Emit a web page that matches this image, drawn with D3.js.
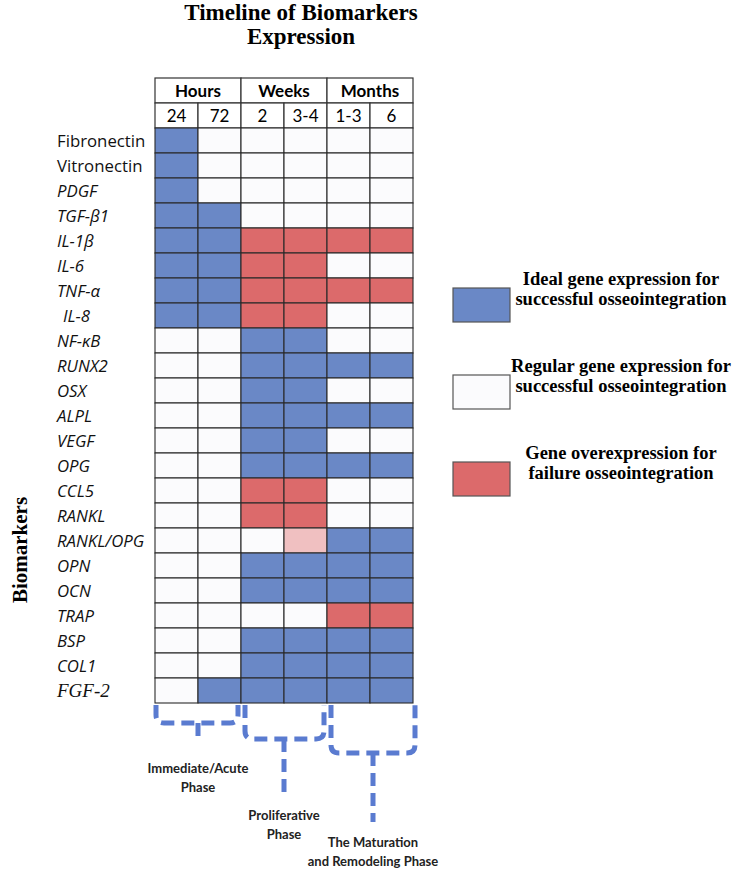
<!DOCTYPE html>
<html>
<head>
<meta charset="utf-8">
<script src="https://cdn.jsdelivr.net/npm/d3@7"></script>
<style>
  body { margin: 0; background: #fff; }
  svg { display: block; }
</style>
</head>
<body>
<svg id="chart" width="738" height="874"></svg>
<script>
// time points, grouped by unit
let groups = ["Hours", "Weeks", "Months"];
let timepoints = ["24", "72", "2", "3-4", "1-3", "6"];
let timeGroup = ["Hours", "Hours", "Weeks", "Weeks", "Months", "Months"];

let biomarkers = ["Fibronectin", "Vitronectin", "PDGF", "TGF-β1", "IL-1β", "IL-6", "TNF-α", "IL-8",
    "NF-κB", "RUNX2", "OSX", "ALPL", "VEGF", "OPG", "CCL5", "RANKL", "RANKL/OPG",
    "OPN", "OCN", "TRAP", "BSP", "COL1", "FGF-2"];

// I = ideal, N = regular (normal), F = overexpression (failure), P = mild overexpression
let expression = [
    "INNNNN", "INNNNN", "INNNNN", "IINNNN", "IIFFFF", "IIFFNN", "IIFFFF", "IIFFNN",
    "NNIINN", "NNIIII", "NNIINN", "NNIIII", "NNIINN", "NNIIII", "NNFFNN", "NNFFNN",
    "NNNPII", "NNIIII", "NNIIII", "NNNNFF", "NNIIII", "NNIIII", "NIIIII"
];

let legendItems = [
    { key: "I", lines: ["Ideal gene expression for", "successful osseointegration"] },
    { key: "N", lines: ["Regular gene expression for", "successful osseointegration"] },
    { key: "F", lines: ["Gene overexpression for", "failure osseointegration"] }
];

let phases = [
    { lines: ["Immediate/Acute", "Phase"], from: "24", to: "72" },
    { lines: ["Proliferative", "Phase"], from: "2", to: "3-4" },
    { lines: ["The Maturation", "and Remodeling Phase"], from: "1-3", to: "6" }
];

let colors = { I: "#6a88c6", N: "#fbfbfd", F: "#dc6a6b", P: "#f0c0c1" };
let sans = "Lato, 'Open Sans', sans-serif";
let labelFont = "'Open Sans', Lato, sans-serif";
let serif = "'Liberation Serif', 'DejaVu Serif', serif";

let svg = d3.select("#chart");

let gridLeft = 155, gridRight = 413, headTop = 78, rowsTop = 128, rowsBottom = 703;

let x = d3.scaleBand().domain(timepoints).range([gridLeft, gridRight]);
let y = d3.scaleBand().domain(biomarkers).range([rowsTop, rowsBottom]);
let headH = (rowsTop - headTop) / 2;

// title
svg.append("g").selectAll("text")
    .data(["Timeline of Biomarkers", "Expression"])
    .enter().append("text")
    .attr("x", 301)
    .attr("y", (d, i) => 20 + i * 24)
    .attr("text-anchor", "middle")
    .style("font-family", serif).style("font-weight", "bold").style("font-size", "23px")
    .text(d => d);

// header: group row
let headerG = svg.append("g");
groups.forEach(g => {
    let cols = timepoints.filter((t, i) => timeGroup[i] === g);
    let x0 = x(cols[0]), x1 = x(cols[cols.length - 1]) + x.bandwidth();
    headerG.append("rect")
        .attr("x", x0).attr("y", headTop).attr("width", x1 - x0).attr("height", headH)
        .attr("fill", "#fff").attr("stroke", "#333").attr("stroke-width", 1.2);
    headerG.append("text")
        .attr("x", (x0 + x1) / 2).attr("y", headTop + headH / 2).attr("dy", ".36em")
        .attr("text-anchor", "middle")
        .style("font-family", sans).style("font-weight", "bold").style("font-size", "17px")
        .text(g);
});

// header: time point row
headerG.selectAll(".tp")
    .data(timepoints)
    .enter().append("g")
    .each(function (d) {
        let g = d3.select(this);
        g.append("rect")
            .attr("x", x(d)).attr("y", headTop + headH).attr("width", x.bandwidth()).attr("height", headH)
            .attr("fill", "#fff").attr("stroke", "#333").attr("stroke-width", 1.2);
        g.append("text")
            .attr("x", x(d) + x.bandwidth() / 2).attr("y", headTop + headH * 1.5).attr("dy", ".36em")
            .attr("text-anchor", "middle")
            .style("font-family", sans).style("font-size", "17px")
            .text(d);
    });

// cells
let cells = [];
biomarkers.forEach((b, r) => {
    timepoints.forEach((t, c) => cells.push({ b, t, v: expression[r][c] }));
});

svg.append("g").selectAll("rect")
    .data(cells)
    .enter().append("rect")
    .attr("x", d => x(d.t))
    .attr("y", d => y(d.b))
    .attr("width", x.bandwidth())
    .attr("height", y.bandwidth())
    .attr("fill", d => colors[d.v])
    .attr("stroke", "#2a2a2a")
    .attr("stroke-width", 1.1);

// row labels
svg.append("g").selectAll("text")
    .data(biomarkers)
    .enter().append("text")
    .attr("x", d => d === "IL-8" ? 63 : 57)
    .attr("y", d => y(d) + y.bandwidth() / 2)
    .attr("dy", ".36em")
    .style("font-family", d => d === "FGF-2" ? serif : labelFont)
    .style("font-style", d => (d === "Fibronectin" || d === "Vitronectin") ? "normal" : "italic")
    .style("font-size", d => d === "FGF-2" ? "19px" : "16.8px")
    .style("fill", "#111")
    .text(d => d);

// y axis title
svg.append("text")
    .attr("transform", "translate(27,550) rotate(-90)")
    .attr("text-anchor", "middle")
    .style("font-family", serif).style("font-weight", "bold").style("font-size", "21px")
    .text("Biomarkers");

// legend
let legend = svg.append("g").selectAll("g")
    .data(legendItems)
    .enter().append("g")
    .attr("transform", (d, i) => `translate(0, ${i * 87})`);

legend.append("rect")
    .attr("x", 453).attr("y", 288).attr("width", 57).attr("height", 34)
    .attr("fill", d => colors[d.key])
    .attr("stroke", "#555").attr("stroke-width", 1.2);

legend.append("text")
    .attr("text-anchor", "middle")
    .style("font-family", serif).style("font-weight", "bold").style("font-size", "18.5px")
    .selectAll("tspan")
    .data(d => d.lines)
    .enter().append("tspan")
    .attr("x", 621)
    .attr("y", (d, i) => 285 + i * 20)
    .text(d => d);

// phase braces
let braceColor = "#5a7bd0";
let braceDepth = [20, 36, 50];
let stemEnd = [742, 797, 822];
let labelY = [773, 820, 847];

phases.forEach((p, i) => {
    let left = x(p.from) + (i === 0 ? 1 : 4);
    let right = x(p.to) + x.bandwidth() - (i === 2 ? -2 : 3);
    let mid = (x(p.from) + x(p.to) + x.bandwidth()) / 2 + (i === 2 ? 3 : 0);
    let top = rowsBottom + 2, hy = rowsBottom + braceDepth[i], r = 8;

    let path = d3.path();
    path.moveTo(left, top);
    path.lineTo(left, hy - r);
    path.quadraticCurveTo(left, hy, left + r, hy);
    path.lineTo(right - r, hy);
    path.quadraticCurveTo(right, hy, right, hy - r);
    path.lineTo(right, top);
    path.moveTo(mid, hy);
    path.lineTo(mid, stemEnd[i]);

    svg.append("path")
        .attr("d", path.toString())
        .attr("fill", "none")
        .attr("stroke", braceColor)
        .attr("stroke-width", 5)
        .attr("stroke-dasharray", "13,7");

    svg.append("text")
        .attr("text-anchor", "middle")
        .style("font-family", sans).style("font-weight", "bold").style("font-size", "13px")
        .style("fill", "#222")
        .selectAll("tspan")
        .data(p.lines)
        .enter().append("tspan")
        .attr("x", mid)
        .attr("y", (d, j) => labelY[i] + j * 19)
        .text(d => d);
});
</script>
</body>
</html>
